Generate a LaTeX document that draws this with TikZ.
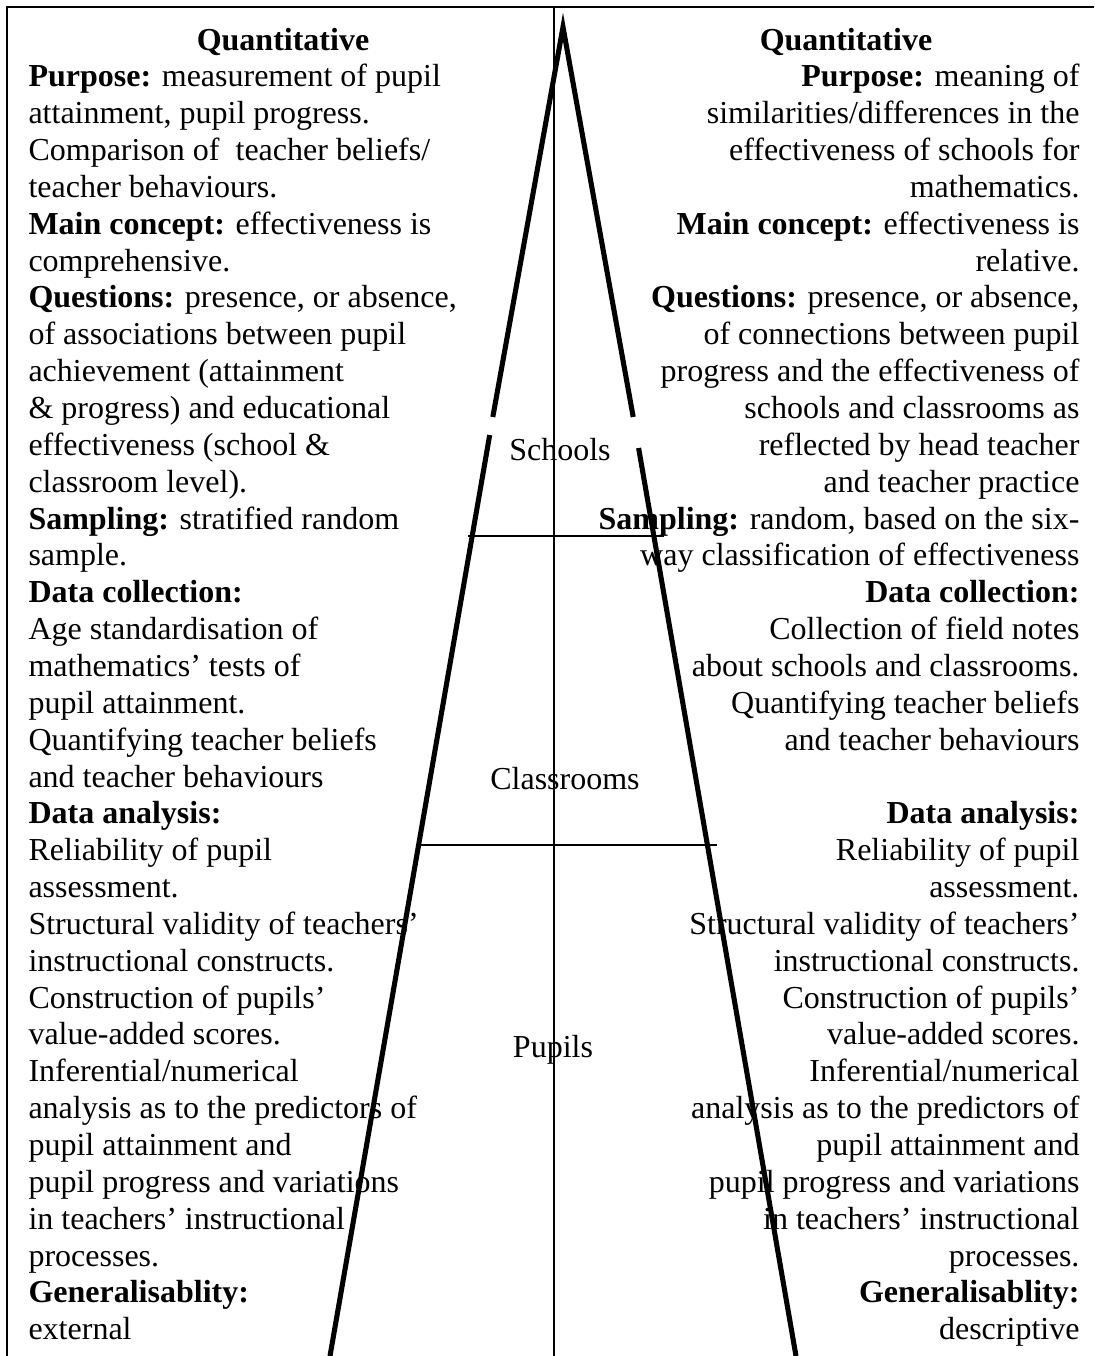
\documentclass[tikz,border=0pt]{standalone}
\usepackage{fontspec}
\setmainfont{Liberation Serif}
\newcommand\ltxt[2]{\node[tl] (l#1) at (28,{50+36.85*(#1-1)}) {#2};}
\newcommand\rtxt[2]{\node[tr] (r#1) at (1080,{50+36.85*(#1-1)}) {#2};}
\begin{document}
\begin{tikzpicture}[x=0.375pt,y=-0.375pt,
  txt/.style={inner sep=0pt,font=\fontsize{12}{14}\selectfont},
  tl/.style={txt,anchor=base west},
  tr/.style={txt,anchor=base east},
  leg/.style={line width=1.9pt},
  thin/.style={line width=0.75pt},
  lvl/.style={txt,anchor=center}]
\useasboundingbox (0,0) rectangle (1094,1356);
% frame
\draw[thin] (1094,7) -- (7,7) -- (7,1356);
% triangle legs (gaps around the Schools label)
\coordinate (apex) at (563,27);
\coordinate (lb) at (330,1356);
\coordinate (rb) at (796,1356);
\coordinate (lg1) at (492.8,417);
\coordinate (lg2) at (489.7,435);
\coordinate (rg1) at (633.2,417);
\coordinate (rg2) at (638.6,448);
\draw[leg,line join=miter] (lg1) -- (apex) -- (rg1);
\draw[leg] (lg2) -- (lb);
\draw[leg] (rg2) -- (rb);
% centre line
\coordinate (ct) at (554,7);
\coordinate (cb) at (554,1356);
\draw[thin] (ct) -- (cb);
% level separators
\coordinate (h1a) at (468,536); \coordinate (h1b) at (664,536);
\coordinate (h2a) at (417,845); \coordinate (h2b) at (717,845);
\draw[thin] (h1a) -- (h1b);
\draw[thin] (h2a) -- (h2b);
% level labels
\node[lvl] (schools) at (560,450) {Schools};
\node[lvl] (classrooms) at (565,779) {Classrooms};
\node[lvl] (pupils) at (553,1050) {Pupils};
% left column
\node[txt,anchor=base] (l1) at (283,50) {\textbf{Quantitative}};
\ltxt{2}{\textbf{Purpose:} measurement of pupil}
\ltxt{3}{attainment, pupil progress.}
\ltxt{4}{Comparison of\ \ teacher beliefs/}
\ltxt{5}{teacher behaviours.}
\ltxt{6}{\textbf{Main concept:} effectiveness is}
\ltxt{7}{comprehensive.}
\ltxt{8}{\textbf{Questions:} presence, or absence,}
\ltxt{9}{of associations between pupil}
\ltxt{10}{achievement (attainment}
\ltxt{11}{\& progress) and educational}
\ltxt{12}{effectiveness (school \&}
\ltxt{13}{classroom level).}
\ltxt{14}{\textbf{Sampling:} stratified random}
\ltxt{15}{sample.}
\ltxt{16}{\textbf{Data collection:}}
\ltxt{17}{Age standardisation of}
\ltxt{18}{mathematics’ tests of}
\ltxt{19}{pupil attainment.}
\ltxt{20}{Quantifying teacher beliefs}
\ltxt{21}{and teacher behaviours}
\ltxt{22}{\textbf{Data analysis:}}
\ltxt{23}{Reliability of pupil}
\ltxt{24}{assessment.}
\ltxt{25}{Structural validity of teachers’}
\ltxt{26}{instructional constructs.}
\ltxt{27}{Construction of pupils’}
\ltxt{28}{value-added scores.}
\ltxt{29}{Inferential/numerical}
\ltxt{30}{analysis as to the predictors of}
\ltxt{31}{pupil attainment and}
\ltxt{32}{pupil progress and variations}
\ltxt{33}{in teachers’ instructional}
\ltxt{34}{processes.}
\ltxt{35}{\textbf{Generalisablity:}}
\ltxt{36}{external}
% right column
\node[txt,anchor=base] (r1) at (846,50) {\textbf{Quantitative}};
\rtxt{2}{\textbf{Purpose:} meaning of}
\rtxt{3}{similarities/differences in the}
\rtxt{4}{effectiveness of schools for}
\rtxt{5}{mathematics.}
\rtxt{6}{\textbf{Main concept:} effectiveness is}
\rtxt{7}{relative.}
\rtxt{8}{\textbf{Questions:} presence, or absence,}
\rtxt{9}{of connections between pupil}
\rtxt{10}{progress and the effectiveness of}
\rtxt{11}{schools and classrooms as}
\rtxt{12}{reflected by head teacher}
\rtxt{13}{and teacher practice}
\rtxt{14}{\textbf{Sampling:} random, based on the six-}
\rtxt{15}{way classification of effectiveness}
\rtxt{16}{\textbf{Data collection:}}
\rtxt{17}{Collection of field notes}
\rtxt{18}{about schools and classrooms.}
\rtxt{19}{Quantifying teacher beliefs}
\rtxt{20}{and teacher behaviours}
\rtxt{22}{\textbf{Data analysis:}}
\rtxt{23}{Reliability of pupil}
\rtxt{24}{assessment.}
\rtxt{25}{Structural validity of teachers’}
\rtxt{26}{instructional constructs.}
\rtxt{27}{Construction of pupils’}
\rtxt{28}{value-added scores.}
\rtxt{29}{Inferential/numerical}
\rtxt{30}{analysis as to the predictors of}
\rtxt{31}{pupil attainment and}
\rtxt{32}{pupil progress and variations}
\rtxt{33}{in teachers’ instructional}
\rtxt{34}{processes.}
\rtxt{35}{\textbf{Generalisablity:}}
\rtxt{36}{descriptive}
\end{tikzpicture}
\end{document}
